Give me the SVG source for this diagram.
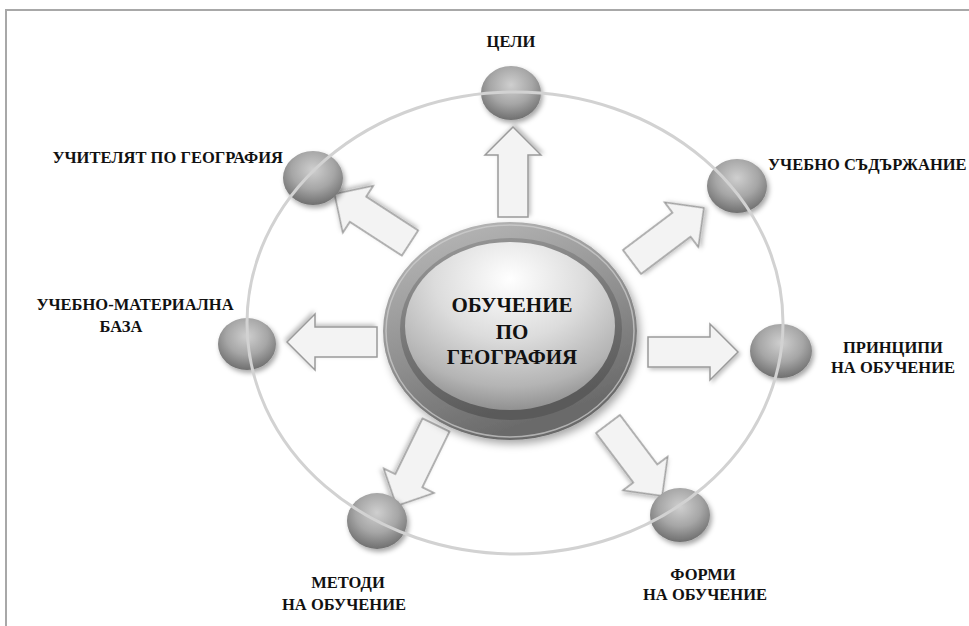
<svg xmlns="http://www.w3.org/2000/svg" xmlns:xlink="http://www.w3.org/1999/xlink" width="969" height="626" viewBox="0 0 969 626">
<style>
.lbl{font-weight:700;font-size:16.5px;fill:#111;}
.ctr{font-weight:700;font-size:21px;fill:#111;}
.ball{fill:url(#gBall);filter:url(#shBall);}
.arrow{fill:#f3f3f3;stroke:#9a9a9a;stroke-width:1.5;filter:url(#shArrow);}
.ring{fill:none;stroke:#d2d2d2;stroke-width:3;}
.frame{stroke:#a8a8a8;stroke-width:2;fill:none;}
</style>
<defs>
<radialGradient id="gBall" cx="50%" cy="35%" r="65%">
<stop offset="0" stop-color="#cfcfcf"/>
<stop offset="0.55" stop-color="#a6a6a6"/>
<stop offset="1" stop-color="#6f6f6f"/>
</radialGradient>
<linearGradient id="gOuter" x1="0" y1="0" x2="0.4" y2="1">
<stop offset="0" stop-color="#bdbdbd"/>
<stop offset="0.6" stop-color="#8e8e8e"/>
<stop offset="1" stop-color="#6a6a6a"/>
</linearGradient>
<linearGradient id="gGroove" x1="0" y1="0" x2="0.3" y2="1">
<stop offset="0" stop-color="#9a9a9a"/>
<stop offset="1" stop-color="#5a5a5a"/>
</linearGradient>
<radialGradient id="gButton" cx="50%" cy="22%" r="80%">
<stop offset="0" stop-color="#ffffff"/>
<stop offset="0.45" stop-color="#dcdcdc"/>
<stop offset="0.8" stop-color="#b4b4b4"/>
<stop offset="1" stop-color="#8c8c8c"/>
</radialGradient>
<filter id="shBall" x="-30%" y="-30%" width="170%" height="170%">
<feDropShadow dx="2" dy="3" stdDeviation="2.5" flood-color="#000" flood-opacity="0.35"/>
</filter>
<filter id="shArrow" x="-30%" y="-30%" width="170%" height="170%">
<feDropShadow dx="2" dy="2" stdDeviation="2" flood-color="#000" flood-opacity="0.25"/>
</filter>
<filter id="shBig" x="-20%" y="-20%" width="140%" height="140%">
<feDropShadow dx="3" dy="4" stdDeviation="4" flood-color="#000" flood-opacity="0.35"/>
</filter>
<path id="arr" d="M0,-15 L62,-15 L62,-28 L90,0 L62,28 L62,15 L0,15 Z"/>
</defs>

<rect width="969" height="626" fill="#ffffff"/>
<path class="frame" d="M6,626 L6,10 L969,10"/>

<g id="connectors">
<use xlink:href="#arr" class="arrow" transform="translate(513,217) rotate(-90)"/>
<use xlink:href="#arr" class="arrow" transform="translate(632,262) rotate(-37)"/>
<use xlink:href="#arr" class="arrow" transform="translate(648,352)"/>
<use xlink:href="#arr" class="arrow" transform="translate(608,424) rotate(53)"/>
<use xlink:href="#arr" class="arrow" transform="translate(436,425) rotate(116)"/>
<use xlink:href="#arr" class="arrow" transform="translate(377,342) rotate(180)"/>
<use xlink:href="#arr" class="arrow" transform="translate(410,243) rotate(-147)"/>
</g>

<g font-family="Liberation Serif, serif">
<g id="n-celi">
<ellipse class="ball" cx="511" cy="93" rx="30" ry="27"/>
<text class="lbl" x="511" y="47" text-anchor="middle">ЦЕЛИ</text>
</g>
<g id="n-sadarzhanie">
<ellipse class="ball" cx="737" cy="186" rx="30" ry="27"/>
<text class="lbl" x="768" y="170">УЧЕБНО СЪДЪРЖАНИЕ</text>
</g>
<g id="n-principi">
<ellipse class="ball" cx="781" cy="351" rx="31" ry="27"/>
<text class="lbl" x="893" y="353" text-anchor="middle">ПРИНЦИПИ</text>
<text class="lbl" x="893" y="373" text-anchor="middle">НА ОБУЧЕНИЕ</text>
</g>
<g id="n-formi">
<ellipse class="ball" cx="680" cy="515" rx="30" ry="27"/>
<text class="lbl" x="703" y="580" text-anchor="middle">ФОРМИ</text>
<text class="lbl" x="705" y="600" text-anchor="middle">НА ОБУЧЕНИЕ</text>
</g>
<g id="n-metodi">
<ellipse class="ball" cx="377" cy="521" rx="30" ry="28"/>
<text class="lbl" x="348" y="588" text-anchor="middle">МЕТОДИ</text>
<text class="lbl" x="344" y="610" text-anchor="middle">НА ОБУЧЕНИЕ</text>
</g>
<g id="n-baza">
<ellipse class="ball" cx="247" cy="344" rx="29" ry="26"/>
<text class="lbl" x="135" y="310" text-anchor="middle">УЧЕБНО-МАТЕРИАЛНА</text>
<text class="lbl" x="121" y="332" text-anchor="middle">БАЗА</text>
</g>
<g id="n-uchitel">
<ellipse class="ball" cx="313" cy="178" rx="30" ry="27"/>
<text class="lbl" x="283" y="163" text-anchor="end">УЧИТЕЛЯТ ПО ГЕОГРАФИЯ</text>
</g>
</g>

<ellipse class="ring" cx="515" cy="323" rx="268" ry="231"/>

<g id="n-center" font-family="Liberation Serif, serif">
<ellipse cx="510" cy="331" rx="127" ry="109" fill="url(#gOuter)" filter="url(#shBig)"/>
<ellipse cx="510" cy="331" rx="124" ry="106" fill="none" stroke="#d0d0d0" stroke-width="1.5" opacity="0.7"/>
<ellipse cx="511" cy="329" rx="111" ry="91" fill="url(#gGroove)"/>
<ellipse cx="510" cy="326" rx="105" ry="84" fill="url(#gButton)"/>
<text class="ctr" x="512" y="312" text-anchor="middle">ОБУЧЕНИЕ</text>
<text class="ctr" x="512" y="339" text-anchor="middle">ПО</text>
<text class="ctr" x="512" y="364" text-anchor="middle">ГЕОГРАФИЯ</text>
</g>
</svg>
